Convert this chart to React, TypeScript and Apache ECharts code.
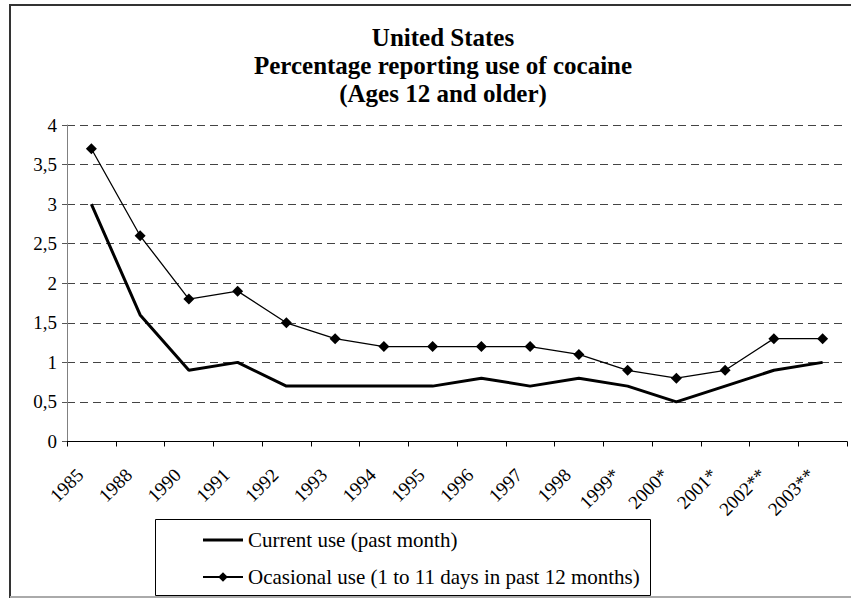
import React, { useEffect, useRef } from 'react';
import * as echarts from 'echarts';

const years = ['1985', '1988', '1990', '1991', '1992', '1993', '1994', '1995', '1996', '1997', '1998', '1999*', '2000*', '2001*', '2002**', '2003**'];
const currentUse = [3.0, 1.6, 0.9, 1.0, 0.7, 0.7, 0.7, 0.7, 0.8, 0.7, 0.8, 0.7, 0.5, 0.7, 0.9, 1.0];
const occasionalUse = [3.7, 2.6, 1.8, 1.9, 1.5, 1.3, 1.2, 1.2, 1.2, 1.2, 1.1, 0.9, 0.8, 0.9, 1.3, 1.3];
const titleLines = ['United States', 'Percentage reporting use of cocaine', '(Ages 12 and older)'];
const seriesNames = ['Current use (past month)', 'Ocasional use (1 to 11 days in past 12 months)'];

const FONT = 'Liberation Serif, serif';

export default function App() {
  const ref = useRef<HTMLDivElement>(null);
  useEffect(() => {
    if (!ref.current) return;
    const chart = echarts.init(ref.current, null, { renderer: 'svg' });
    chart.setOption({
      animation: false,
      backgroundColor: '#ffffff',
      textStyle: { fontFamily: FONT, color: '#000' },
      title: {
        text: titleLines.join('\n'),
        left: 443,
        top: 23,
        padding: 0,
        textAlign: 'center',
        textStyle: { fontFamily: FONT, fontSize: 25, fontWeight: 'bold', lineHeight: 28, color: '#000' },
      },
      graphic: [
        { type: 'line', shape: { x1: 10, y1: 5, x2: 851, y2: 5 }, style: { stroke: '#333', lineWidth: 2 } },
        { type: 'line', shape: { x1: 10, y1: 4, x2: 10, y2: 598 }, style: { stroke: '#333', lineWidth: 2 } },
        { type: 'line', shape: { x1: 10, y1: 597, x2: 851, y2: 597 }, style: { stroke: '#aaa', lineWidth: 2 } },
        { type: 'rect', shape: { x: 155.5, y: 519.5, width: 495, height: 76 }, style: { fill: 'none', stroke: '#000', lineWidth: 1 }, z: 0 },
      ],
      legend: {
        orient: 'vertical',
        left: 202,
        top: 528,
        padding: 0,
        itemWidth: 40,
        itemHeight: 12,
        itemGap: 13,
        textStyle: { fontFamily: FONT, fontSize: 21, lineHeight: 24, color: '#000' },
        data: [
          { name: seriesNames[0], icon: 'path://M0,0H40V3H0Z' },
          { name: seriesNames[1] },
        ],
      },
      grid: { left: 67, top: 125, right: 4, bottom: 156.5, containLabel: false },
      xAxis: {
        type: 'category',
        data: years,
        boundaryGap: true,
        axisLine: { lineStyle: { color: '#000', width: 1 } },
        axisTick: { show: true, length: 5, inside: false, alignWithLabel: false, lineStyle: { color: '#000' } },
        axisLabel: {
          interval: 0,
          rotate: 45,
          margin: 19,
          padding: [0, 16, 0, 0],
          fontFamily: FONT,
          fontSize: 19,
          color: '#000',
        },
        splitLine: { show: false },
      },
      yAxis: {
        type: 'value',
        min: 0,
        max: 4,
        interval: 0.5,
        axisLine: { show: true, lineStyle: { color: '#808080', width: 1 } },
        axisTick: { show: true, length: 5, lineStyle: { color: '#555' } },
        axisLabel: {
          margin: 10,
          fontFamily: FONT,
          fontSize: 19,
          color: '#000',
          formatter: (v: number) => String(v).replace('.', ','),
        },
        splitLine: { show: true, lineStyle: { color: '#444', type: [8, 5], width: 1 } },
      },
      series: [
        {
          name: seriesNames[0],
          type: 'line',
          data: currentUse,
          symbol: 'none',
          color: '#000',
          lineStyle: { color: '#000', width: 3 },
          z: 3,
        },
        {
          name: seriesNames[1],
          type: 'line',
          data: occasionalUse,
          symbol: 'diamond',
          symbolSize: 11,
          color: '#000',
          itemStyle: { color: '#000' },
          lineStyle: { color: '#000', width: 1.3 },
          z: 4,
        },
      ],
    });
    return () => chart.dispose();
  }, []);
  return <div ref={ref} style={{ position: 'fixed', left: 0, top: 0, width: 851, height: 598 }} />;
}
